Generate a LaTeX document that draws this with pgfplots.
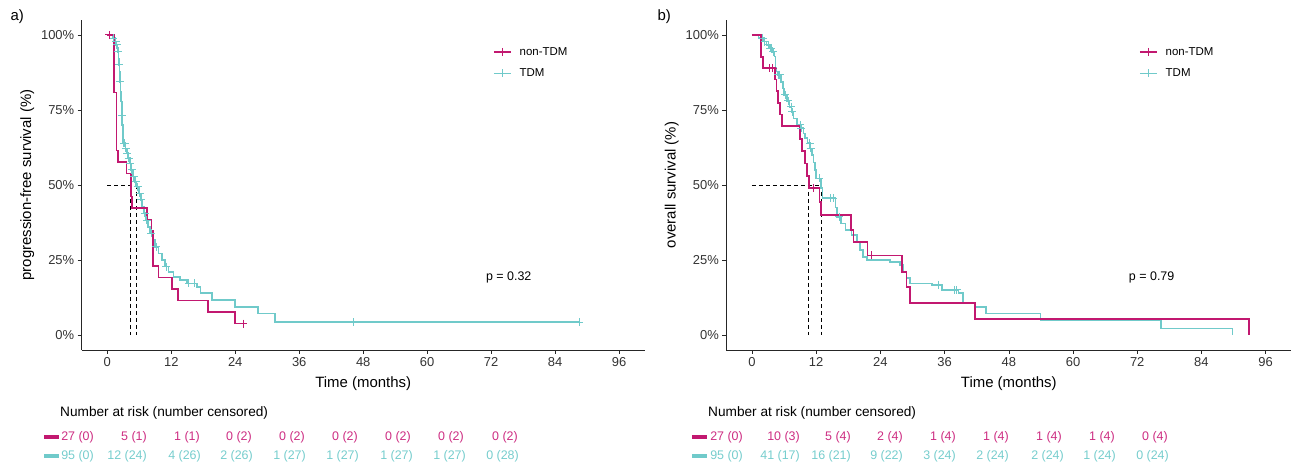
\documentclass[border=0pt]{standalone}
\usepackage{fontspec}
\setmainfont{Liberation Sans}
\usepackage{pgfplots}
\pgfplotsset{compat=1.18}
\definecolor{mg}{RGB}{194,24,112}
\definecolor{cy}{RGB}{112,202,202}
\definecolor{mgt}{RGB}{205,45,130}
\definecolor{cyt}{RGB}{118,205,205}
\pgfplotsset{kmstyle/.style={
  scale only axis, width=563bp, height=330bp,
  xmin=-4.8, xmax=100.8, ymin=-5, ymax=105,
  axis x line*=bottom, axis y line*=left,
  axis line style={black!85, line width=0.6bp, -},
  xtick={0,12,...,96}, ytick={0,25,50,75,100},
  yticklabels={0\%,25\%,50\%,75\%,100\%},
  xticklabels={0,12,24,36,48,60,72,84,96},
  tick align=outside, major tick length=4bp,
  tick style={black!85, line width=0.6bp},
  tick label style={font=\fontsize{13}{15}\selectfont, text=black!80},
  label style={font=\fontsize{15}{17}\selectfont},
  xlabel={Time (months)},
  xlabel style={yshift=-3bp},
  legend style={draw=none, fill=none, font=\fontsize{11.5}{13}\selectfont,
    at={(0.725,0.93)}, anchor=north west, row sep=8bp},
  legend cell align=left,
  clip=false,
}}
\begin{document}
\begin{tikzpicture}
% ---------------- panel a ----------------
\begin{axis}[kmstyle, at={(81.7bp,119bp)}, anchor=south west,
  ylabel={progression-free survival (\%)}]
\addlegendimage{mg, line width=1.6bp, mark=+, mark size=4bp}
\addlegendentry{\hspace{6bp}non-TDM}
\addlegendimage{cy, line width=1.6bp, mark=+, mark size=4bp}
\addlegendentry{\hspace{6bp}TDM}
\addplot[black, line width=0.8bp, dash pattern=on 4bp off 3bp, forget plot] coordinates {(0,50) (5.5,50)};
\addplot[black, line width=0.8bp, dash pattern=on 4bp off 3bp, forget plot] coordinates {(4.4,50) (4.4,0)};
\addplot[black, line width=0.8bp, dash pattern=on 4bp off 3bp, forget plot] coordinates {(5.5,50) (5.5,0)};
% TDM PFS
\addplot[cy, line width=1.7bp, const plot, forget plot] coordinates {
(0,100) (1.0,98.9) (1.4,97.8) (1.7,96.7) (1.9,95.6) (2.0,94.4) (2.1,92.2) (2.2,90.0)
(2.3,87.8) (2.4,84.4) (2.5,81.1) (2.6,77.8) (2.7,73.3) (2.8,70.0) (2.9,66.7) (3.0,63.9)
(3.4,62.2) (3.6,60.6) (3.9,58.9) (4.2,57.2) (4.5,55.0) (4.8,52.8) (5.2,51.1) (5.5,49.4)
(6.0,47.2) (6.3,45.0) (6.5,42.8) (6.9,40.6) (7.2,38.3) (7.6,36.1) (8.0,33.9) (8.5,31.7)
(9.0,29.4) (9.6,27.2) (10.2,25.0) (10.8,22.8) (11.5,21.1) (12.4,19.4) (13.6,18.3) (14.9,17.2)
(16.8,16.1) (17.5,13.9) (19.6,11.7) (23.9,9.4) (28.3,7.2) (31.4,4.3) (88.5,4.3)};
\addplot[cy, only marks, mark=+, mark size=4bp, line width=1bp, forget plot] coordinates {
(1.1,98.9) (1.6,97.8) (1.8,96.7) (2.05,94.4) (2.2,90.0) (2.45,84.4) (2.75,73.3) (3.1,63.9)
(3.3,63.9) (3.5,62.2) (3.7,60.6) (4.0,58.9) (4.3,57.2) (4.6,55.0) (5.0,52.8) (5.3,51.1)
(5.7,49.4) (6.1,47.2) (6.4,45.0) (7.0,40.6) (7.4,38.3) (8.2,33.9) (9.2,29.4) (11.1,22.8)
(15.3,17.2) (16.3,17.2) (46.1,4.3) (88.5,4.3)};
% non-TDM PFS
\addplot[mg, line width=1.7bp, const plot, forget plot] coordinates {
(0,100) (1.3,80.8) (1.7,61.5) (2.0,57.7) (3.6,53.8) (4.4,46.2) (4.7,42.3) (7.4,38.5)
(8.3,34.6) (8.6,23.1) (9.6,19.2) (12.1,15.4) (13.3,11.5) (18.9,7.7) (23.9,3.8) (25.5,3.8)};
\addplot[mg, only marks, mark=+, mark size=4bp, line width=1bp, forget plot] coordinates {
(0.4,100) (25.5,3.8)};
\node[font=\fontsize{12.5}{14}\selectfont] at (axis cs:75.3,19.3) {p = 0.32};
\end{axis}
% ---------------- panel b ----------------
\begin{axis}[kmstyle, width=565bp, at={(726.3bp,119bp)}, anchor=south west,
  ylabel={overall survival (\%)}]
\addlegendimage{mg, line width=1.6bp, mark=+, mark size=4bp}
\addlegendentry{\hspace{6bp}non-TDM}
\addlegendimage{cy, line width=1.6bp, mark=+, mark size=4bp}
\addlegendentry{\hspace{6bp}TDM}
\addplot[black, line width=0.8bp, dash pattern=on 4bp off 3bp, forget plot] coordinates {(0,50) (12.9,50)};
\addplot[black, line width=0.8bp, dash pattern=on 4bp off 3bp, forget plot] coordinates {(10.6,50) (10.6,0)};
\addplot[black, line width=0.8bp, dash pattern=on 4bp off 3bp, forget plot] coordinates {(12.9,50) (12.9,0)};
% TDM OS
\addplot[cy, line width=1.7bp, const plot, forget plot] coordinates {
(0,100) (1.2,98.9) (2.2,97.8) (2.7,96.7) (3.2,95.6) (3.8,94.4) (4.2,92.8) (4.4,88.9)
(4.6,87.8) (4.8,86.7) (5.4,84.4) (5.8,82.2) (6.0,80.0) (6.5,78.0) (7.0,76.1) (7.4,74.4)
(7.75,72.2) (8.35,70.0) (9.1,68.9) (9.6,67.2) (9.9,65.6) (10.4,63.9) (10.9,62.2) (11.2,60.0)
(11.5,57.5) (11.8,55.0) (12.0,52.2) (12.9,48.9) (13.2,45.6) (15.6,42.5) (15.9,39.4) (16.6,37.2)
(17.5,35.0) (18.6,33.3) (19.6,31.1) (20.2,28.3) (20.8,26.1) (21.5,25.0) (25.8,24.4) (27.6,23.3)
(28.2,21.1) (28.9,18.9) (29.5,17.2) (33.6,16.7) (35.5,15.0) (38.6,13.9) (39.5,10.6) (41.7,9.4)
(43.8,7.2) (53.9,5.0) (76.5,2.2) (89.8,0)};
\addplot[cy, only marks, mark=+, mark size=4bp, line width=1bp, forget plot] coordinates {
(2.0,98.9) (2.4,97.8) (3.0,96.7) (3.4,95.6) (3.6,95.6) (4.0,94.4) (4.9,86.7) (5.2,86.7)
(6.2,80.0) (6.8,78.0) (7.3,76.1) (7.5,74.4) (9.0,70.0) (9.2,68.9) (10.8,63.9) (11.0,62.2)
(12.6,52.2) (14.6,45.6) (15.2,45.6) (16.3,39.4) (34.8,16.7) (37.9,15.0) (38.3,15.0)};
% non-TDM OS
\addplot[mg, line width=1.7bp, const plot, forget plot] coordinates {
(0,100) (1.7,92.6) (2.1,88.9) (4.3,85.2) (4.6,81.3) (4.9,77.4) (5.3,73.5) (5.6,69.6)
(9.0,65.4) (9.4,61.3) (9.9,57.2) (10.3,53.1) (10.6,49.0) (12.6,44.4) (12.9,40.0) (18.5,35.0)
(19.0,31.1) (21.6,26.5) (28.0,21.1) (28.9,16.0) (29.5,10.6) (41.7,5.3) (92.9,0)};
\addplot[mg, only marks, mark=+, mark size=4bp, line width=1bp, forget plot] coordinates {
(3.3,88.9) (3.9,88.9) (11.5,49.0) (22.3,26.5)};
\node[font=\fontsize{12.5}{14}\selectfont] at (axis cs:74.7,19.3) {p = 0.79};
\end{axis}
% ---------------- labels and risk tables ----------------
\node[anchor=west, font=\fontsize{15}{17}\selectfont] at (7bp,452bp) {a)};
\node[anchor=west, font=\fontsize{15}{17}\selectfont] at (654bp,452bp) {b)};
\node[anchor=west, inner sep=0pt, font=\fontsize{13.7}{16}\selectfont] at (60bp,56bp) {Number at risk (number censored)};
\node[anchor=west, inner sep=0pt, font=\fontsize{13.7}{16}\selectfont] at (708bp,56bp) {Number at risk (number censored)};
\fill[mg] (44.3bp,30bp) rectangle (59bp,34bp);
\fill[cy] (44.3bp,11bp) rectangle (59bp,15bp);
\fill[mg] (691.7bp,30bp) rectangle (706.7bp,34bp);
\fill[cy] (691.7bp,11bp) rectangle (706.7bp,15bp);
\begin{scope}[every node/.style={anchor=east, font=\fontsize{12.5}{14}\selectfont, inner sep=0pt}]
\foreach \x/\t in {94/27 (0),147/5 (1),200/1 (1),252/0 (2),305/0 (2),358/0 (2),411/0 (2),464/0 (2),518/0 (2)}
  \node[text=mgt] at (\x bp,32bp) {\t};
\foreach \x/\t in {94/95 (0),147/12 (24),201/4 (26),253/2 (26),306/1 (27),359/1 (27),413/1 (27),466/1 (27),519/0 (28)}
  \node[text=cyt] at (\x bp,13bp) {\t};
\foreach \x/\t in {743/27 (0),800/10 (3),851/5 (4),903/2 (4),956/1 (4),1009/1 (4),1062/1 (4),1115/1 (4),1168/0 (4)}
  \node[text=mgt] at (\x bp,32bp) {\t};
\foreach \x/\t in {743/95 (0),800/41 (17),851/16 (21),903/9 (22),956/3 (24),1009/2 (24),1064/2 (24),1116/1 (24),1169/0 (24)}
  \node[text=cyt] at (\x bp,13bp) {\t};
\end{scope}
\pgfresetboundingbox
\path[use as bounding box] (0,0) rectangle (1295bp,469bp);
\end{tikzpicture}
\end{document}
